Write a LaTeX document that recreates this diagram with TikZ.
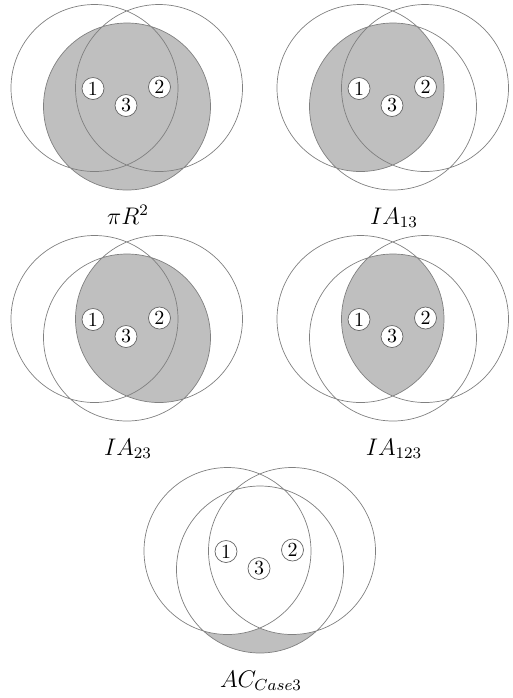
\documentclass[tikz,border=0pt]{standalone}
\usepackage{amsmath}
\usepackage{xcolor}
\usepackage{tikz}
\usetikzlibrary{positioning, calc}

\newcommand{\vennrad}{41.75pt}

\begin{document}
\begin{tikzpicture}[
        x=0.5pt, y=-0.5pt,
        venn_circle/.style={draw=black!50, line width=0.35pt},
        shade_area/.style={fill=black!25},
        pt_node/.style={circle, draw=black!60, fill=white, line width=0.35pt,
                        inner sep=0pt, minimum size=11pt, font=\normalsize},
        lbl/.style={anchor=base, font=\large}
    ]

    \useasboundingbox (0,0) rectangle (513,698);

    % circle centres of the five panels
    \foreach \p/\dx/\dy in {1/0/0, 2/266/0, 3/0/231, 4/266/231, 5/133/463} {
        \begin{scope}[shift={(\dx,\dy)}]
            \coordinate (p\p_c1) at (94.5,88);
            \coordinate (p\p_c2) at (159,88);
            \coordinate (p\p_c3) at (127,106.5);
        \end{scope}
    }

    % shaded areas
    \fill[shade_area] (p1_c3) circle[radius=\vennrad];
    \begin{scope}
        \clip (p2_c1) circle[radius=\vennrad];
        \fill[shade_area] (p2_c3) circle[radius=\vennrad];
    \end{scope}
    \begin{scope}
        \clip (p3_c2) circle[radius=\vennrad];
        \fill[shade_area] (p3_c3) circle[radius=\vennrad];
    \end{scope}
    \begin{scope}
        \clip (p4_c1) circle[radius=\vennrad];
        \clip (p4_c2) circle[radius=\vennrad];
        \fill[shade_area] (p4_c3) circle[radius=\vennrad];
    \end{scope}
    \begin{scope}
        \clip (p5_c3) circle[radius=\vennrad];
        \fill[shade_area] (p5_c3) circle[radius=\vennrad];
        \fill[white] (p5_c1) circle[radius=\vennrad] (p5_c2) circle[radius=\vennrad];
    \end{scope}

    % circles, points and captions
    \foreach \p/\txt in {1/{$\pi R^2$}, 2/{$IA_{13}$}, 3/{$IA_{23}$}, 4/{$IA_{123}$}, 5/{$AC_{Case3}$}} {
        \draw[venn_circle] (p\p_c1) circle[radius=\vennrad]
                           (p\p_c2) circle[radius=\vennrad]
                           (p\p_c3) circle[radius=\vennrad];
        \node[pt_node] (p\p_n1) at ($(p\p_c1)+(-1.5,0.5)$) {1};
        \node[pt_node] (p\p_n2) at ($(p\p_c2)+(0.5,-1)$) {2};
        \node[pt_node] (p\p_n3) at ($(p\p_c3)+(-1,-1)$) {3};
        \node[lbl] (p\p_lbl) at ($(p\p_c3)+(1,117.5)$) {\txt};
    }
\end{tikzpicture}
\end{document}
